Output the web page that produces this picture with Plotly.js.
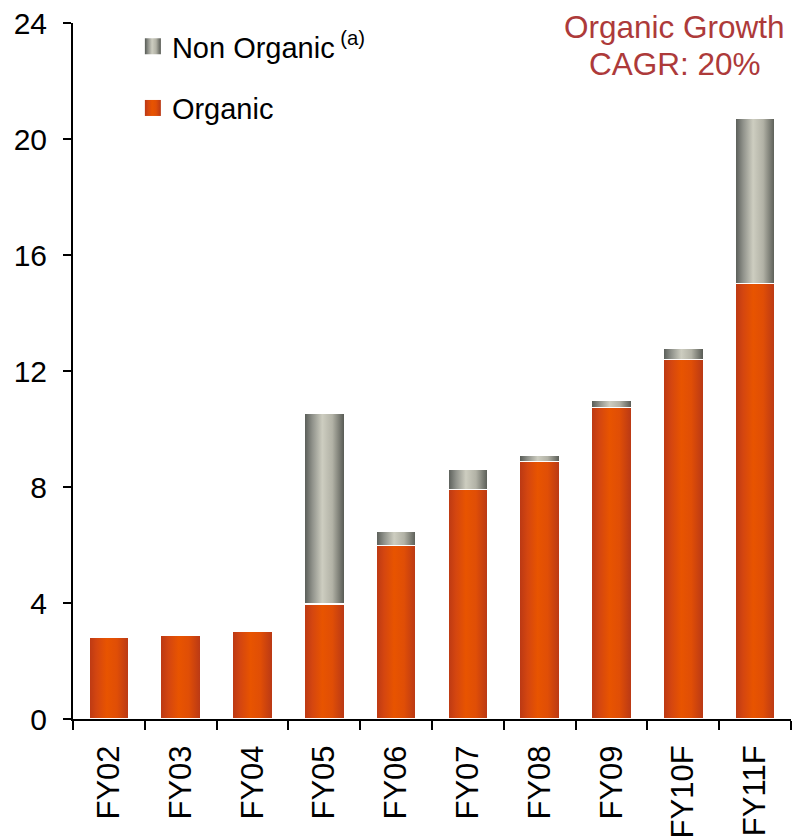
<!DOCTYPE html>
<html>
<head>
<meta charset="utf-8">
<script src="https://cdn.plot.ly/plotly-3.0.1.min.js"></script>
<style>
  html, body { margin: 0; padding: 0; background: #fff; }
  #chart { width: 792px; height: 838px; }
</style>
</head>
<body>
<div id="chart"></div>
<script>
const categories = ["FY02", "FY03", "FY04", "FY05", "FY06", "FY07", "FY08", "FY09", "FY10F", "FY11F"];
const organic    = [2.82, 2.89, 3.03, 3.96, 5.99, 7.92, 8.88, 10.74, 12.40, 15.01];
const nonOrganic = [0, 0, 0, 6.58, 0.48, 0.69, 0.21, 0.24, 0.38, 5.72];
const yTicks = [0, 4, 8, 12, 16, 20, 24];
const noteLines = ["Organic Growth", "CAGR: 20%"];

const FONT = "Liberation Sans, Arial, sans-serif";

const traces = [
  {
    type: "bar", name: "Organic", x: categories, y: organic,
    legendgroup: "org", legendrank: 2,
    marker: { color: "#E25000", line: { color: "#FFFFFF", width: 1.5 } },
    hoverinfo: "skip"
  },
  {
    type: "bar", name: "Non Organic<sup> (a)</sup>", x: categories, y: nonOrganic,
    legendgroup: "non", legendrank: 1,
    marker: { color: "#A8A89C", line: { color: "#FFFFFF", width: 1.5 } },
    hoverinfo: "skip"
  }
];

const layout = {
  width: 792, height: 838,
  margin: { l: 73, r: 1, t: 23, b: 119 },
  paper_bgcolor: "#FFFFFF", plot_bgcolor: "#FFFFFF",
  barmode: "stack",
  bargap: 0.44,
  font: { family: FONT, size: 29, color: "#000000" },
  showlegend: true,
  legend: {
    x: 0.082, y: 1.003, xanchor: "left", yanchor: "top",
    traceorder: "grouped", tracegroupgap: 21,
    font: { family: FONT, size: 29, color: "#000" },
    bgcolor: "rgba(0,0,0,0)"
  },
  xaxis: {
    type: "category",
    showline: true, linecolor: "#000", linewidth: 2,
    ticks: "outside", tickson: "boundaries", ticklen: 9, tickwidth: 2, tickcolor: "#000",
    tickangle: -90, ticklabelstandoff: 12,
    tickfont: { family: FONT, size: 31, color: "#000" },
    showgrid: false, zeroline: false, fixedrange: true
  },
  yaxis: {
    range: [0, 24], tickmode: "array", tickvals: yTicks, ticktext: yTicks.map(String),
    showline: true, linecolor: "#000", linewidth: 2,
    ticks: "outside", ticklen: 8, tickwidth: 2, tickcolor: "#000",
    ticklabelstandoff: 10,
    tickfont: { family: FONT, size: 30, color: "#000" },
    showgrid: false, zeroline: false, fixedrange: true
  },
  annotations: [
    {
      xref: "paper", yref: "paper", x: 0.838, y: 0.9943, xanchor: "center", yanchor: "middle",
      text: noteLines[0], showarrow: false,
      font: { family: FONT, size: 31.5, color: "#AD3A3A" }
    },
    {
      xref: "paper", yref: "paper", x: 0.838, y: 0.9404, xanchor: "center", yanchor: "middle",
      text: noteLines[1], showarrow: false,
      font: { family: FONT, size: 31.5, color: "#AD3A3A" }
    }
  ]
};

function addGradients(gd) {
  const svg = gd.querySelector("svg.main-svg");
  const ns = "http://www.w3.org/2000/svg";
  let defs = svg.querySelector("defs");
  if (!defs) { defs = document.createElementNS(ns, "defs"); svg.insertBefore(defs, svg.firstChild); }
  function grad(id, stops) {
    const g = document.createElementNS(ns, "linearGradient");
    g.setAttribute("id", id);
    g.setAttribute("x1", "0"); g.setAttribute("y1", "0");
    g.setAttribute("x2", "1"); g.setAttribute("y2", "0");
    stops.forEach(([o, c]) => {
      const s = document.createElementNS(ns, "stop");
      s.setAttribute("offset", o); s.setAttribute("stop-color", c);
      g.appendChild(s);
    });
    defs.appendChild(g);
  }
  grad("gOrg", [["0", "#BA3814"], ["0.2", "#D44610"], ["0.45", "#E85400"], ["0.7", "#E04E06"], ["1", "#B83816"]]);
  grad("gNon", [["0", "#555954"], ["0.2", "#8F918A"], ["0.45", "#CDCDC0"], ["0.7", "#B2B2A6"], ["1", "#555852"]]);
  const barTraces = gd.querySelectorAll(".barlayer .trace");
  barTraces.forEach((t, i) => {
    const id = i === 0 ? "gOrg" : "gNon";
    t.querySelectorAll("path").forEach(p => { p.style.fill = "url(#" + id + ")"; });
  });
  gd.querySelectorAll(".legend .traces").forEach(t => {
    const txt = t.textContent || "";
    const id = txt.indexOf("Non") >= 0 ? "gNon" : "gOrg";
    const textEl = t.querySelector("text.legendtext");
    t.querySelectorAll(".legendpoints path").forEach(p => {
      p.style.fill = "url(#" + id + ")";
      p.style.stroke = "none";
      p.setAttribute("d", "M-8,-8H8V8H-8Z");
      p.removeAttribute("transform");
      if (textEl) {
        const tr = textEl.getBoundingClientRect();
        const pr = p.getBoundingClientRect();
        const dx = (tr.left - 19) - (pr.left + pr.right) / 2;
        p.setAttribute("transform", "translate(" + dx + ",0)");
      }
    });
  });
}

Plotly.newPlot("chart", traces, layout, { staticPlot: true, displayModeBar: false })
  .then(gd => addGradients(gd));
</script>
</body>
</html>
